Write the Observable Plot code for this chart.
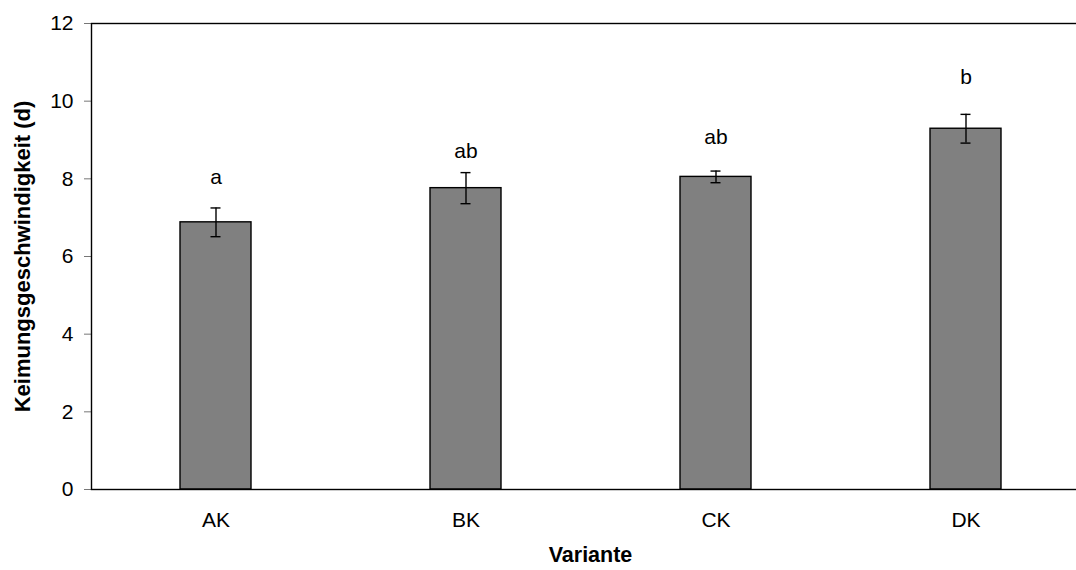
<!DOCTYPE html>
<html>
<head>
<meta charset="utf-8">
<script src="https://cdn.jsdelivr.net/npm/d3@7"></script>
<script src="https://cdn.jsdelivr.net/npm/@observablehq/plot@0.6"></script>
<style>
  html, body { margin: 0; padding: 0; background: #fff; }
  #chart svg { display: block; }
</style>
</head>
<body>
<div id="chart"></div>
<script>
// Germination speed per variant (days), mean ± error
const variants = ["AK", "BK", "CK", "DK"];
const meanDays = [6.88, 7.76, 8.05, 9.29];
const errDays = [0.37, 0.40, 0.15, 0.37];
// Significance group letters and the level (in days) where each one sits
const groupLetters = ["a", "ab", "ab", "b"];
const letterLevel = [7.87, 8.54, 8.90, 10.44];
const yTicks = [0, 2, 4, 6, 8, 10, 12];

const rows = variants.map((v, i) => ({
  variant: v,
  mean: meanDays[i],
  lo: meanDays[i] - errDays[i],
  hi: meanDays[i] + errDays[i],
  letter: groupLetters[i],
  level: letterLevel[i]
}));

const font = "'Liberation Sans', Arial, Helvetica, sans-serif";

const chart = Plot.plot({
  width: 1076,
  height: 570,
  marginLeft: 91,
  marginRight: -13,
  marginTop: 23,
  marginBottom: 81,
  style: { fontFamily: font, fontSize: "21px", color: "#000", background: "#fff", overflow: "hidden" },
  x: { domain: variants, paddingInner: 0.716, paddingOuter: 0.354, label: null },
  y: { domain: [0, 12], label: null },
  marks: [
    Plot.barY(rows, { x: "variant", y: "mean", fill: "#808080", stroke: "#000", strokeWidth: 1.4 }),
    Plot.ruleX(rows, { x: "variant", y1: "lo", y2: "hi", stroke: "#000", strokeWidth: 1.4 }),
    Plot.tickY(rows, { x: "variant", y: "lo", stroke: "#000", strokeWidth: 1.4, insetLeft: 30.5, insetRight: 30.5 }),
    Plot.tickY(rows, { x: "variant", y: "hi", stroke: "#000", strokeWidth: 1.4, insetLeft: 30.5, insetRight: 30.5 }),
    Plot.text(rows, { x: "variant", y: "level", text: "letter", lineAnchor: "bottom", fontSize: 21, fill: "#000" }),
    Plot.axisY({ ticks: yTicks, tickSize: 7, tickPadding: 11, stroke: "#777", fill: "#000", fontSize: 21, label: null }),
    Plot.axisX({ tickSize: 0, tickPadding: 23, fontSize: 21, fill: "#000", label: null }),
    Plot.frame({ stroke: "#000", strokeWidth: 1.4 }),
    Plot.text(["Keimungsgeschwindigkeit (d)"], { frameAnchor: "left", textAnchor: "middle", rotate: -90, dx: -69, fontWeight: "bold", fontSize: 22, fill: "#000" }),
    Plot.text(["Variante"], { frameAnchor: "bottom", textAnchor: "middle", dy: 72, fontWeight: "bold", fontSize: 21.5, fill: "#000" })
  ]
});

document.getElementById("chart").appendChild(chart);
</script>
</body>
</html>
